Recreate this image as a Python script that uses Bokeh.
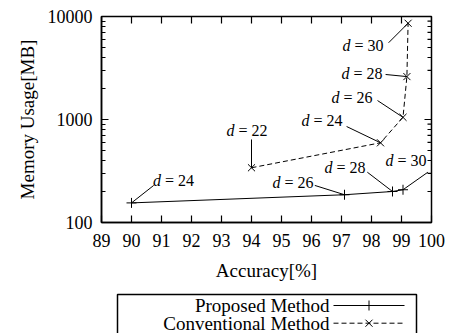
import math
from bokeh.plotting import figure
from bokeh.models import Range1d, FixedTicker, PrintfTickFormatter
from bokeh.layouts import column
from bokeh.embed import file_html
from bokeh.resources import INLINE
from bokeh.core.properties import value

# ---------------- data ----------------
proposed_d = [24, 26, 28, 30]
proposed_acc = [90.0, 97.1, 98.7, 99.05]
proposed_mem = [155, 186, 200, 208]

conv_d = [22, 24, 26, 28, 30]
conv_acc = [94.0, 98.3, 99.05, 99.18, 99.22]
conv_mem = [340, 594, 1050, 2610, 8600]

x_ticks = list(range(89, 101))
y_ticks = [100, 1000, 10000]
y_minor = [m * 10 ** e for e in (2, 3) for m in range(2, 10)]

legend_labels = ["Proposed Method", "Conventional Method"]

# annotation layout (label left edge / middle, and leader start), data coords
prop_label_pos = [(90.72, 256), (94.7, 246), (96.43, 340), (98.47, 400)]
prop_leader_start = [(90.74, 229), (96.11, 229), (97.86, 308), (99.88, 308)]
conv_label_pos = [(93.17, 782), (95.67, 977), (96.67, 1637), (97.0, 2797), (97.03, 5224)]
conv_leader_start = [(94.0, 640), (97.17, 855), (98.2, 1528), (98.47, 2735), (98.57, 5561)]

FONT = "Liberation Serif"
X0, X1 = 89, 100
Y0, Y1 = 100, 10000

p = figure(width=446, height=290, x_range=Range1d(X0, X1), y_range=Range1d(Y0, Y1),
           y_axis_type="log", output_backend="svg", toolbar_location=None,
           min_border_left=101, min_border_right=15, min_border_top=16, min_border_bottom=68)
p.xgrid.visible = False
p.ygrid.visible = False
p.outline_line_color = "black"
p.outline_line_width = 1.5
p.background_fill_color = "white"
p.border_fill_color = "white"

p.xaxis.ticker = FixedTicker(ticks=x_ticks)
p.yaxis.ticker = FixedTicker(ticks=y_ticks, minor_ticks=y_minor)
p.yaxis.formatter = PrintfTickFormatter(format="%d")
p.xaxis.axis_label = "Accuracy[%]"
p.yaxis.axis_label = "Memory Usage[MB]"

for ax in (p.xaxis[0], p.yaxis[0]):
    ax.axis_line_color = "black"
    ax.axis_line_width = 1.5
    ax.major_tick_in = 7
    ax.major_tick_out = 0
    ax.minor_tick_in = 4
    ax.minor_tick_out = 0
    ax.major_tick_line_color = "black"
    ax.minor_tick_line_color = "black"
    ax.major_tick_line_width = 1.2
    ax.minor_tick_line_width = 1.2
    ax.major_label_text_font = FONT
    ax.major_label_text_font_size = "18px"
    ax.major_label_text_color = "black"
    ax.axis_label_text_font = FONT
    ax.axis_label_text_font_size = "19px"
    ax.axis_label_text_font_style = "normal"
    ax.axis_label_text_color = "black"
p.xaxis.major_label_standoff = 11
p.xaxis.axis_label_standoff = 10
p.yaxis.major_label_standoff = 9
p.yaxis.axis_label_standoff = 7

# mirrored ticks on top and right edges (half of each dash is clipped by the frame)
p.scatter(x_ticks, [Y1] * len(x_ticks), marker="dash", angle=math.pi / 2, size=14,
          line_color="black", line_width=1.2)
p.scatter([X1] * len(y_ticks), y_ticks, marker="dash", size=14, line_color="black", line_width=1.2)
p.scatter([X1] * len(y_minor), y_minor, marker="dash", size=8, line_color="black", line_width=1.2)

# series
p.line(conv_acc, conv_mem, line_color="black", line_width=1, line_dash="5 3")
p.scatter(conv_acc, conv_mem, marker="x", size=10, line_color="black", line_width=1)
p.line(proposed_acc, proposed_mem, line_color="black", line_width=1)
p.scatter(proposed_acc, proposed_mem, marker="cross", size=10, line_color="black", line_width=1)

# annotations
def annotate(ds, acc, mem, label_pos, leader):
    p.segment(x0=[s[0] for s in leader], y0=[s[1] for s in leader], x1=acc, y1=mem,
              line_color="black", line_width=1)
    lx = [l[0] for l in label_pos]
    ly = [l[1] for l in label_pos]
    p.text(lx, ly, text=["d"] * len(ds), text_font=value(FONT), text_font_style="italic",
           text_font_size="16px", text_baseline="middle", text_align="left", text_color="black")
    p.text(lx, ly, text=["= %d" % d for d in ds], text_font=value(FONT),
           text_font_style="normal",
           text_font_size="16px", text_baseline="middle", text_align="left", text_color="black",
           x_offset=12)

annotate(proposed_d, proposed_acc, proposed_mem, prop_label_pos, prop_leader_start)
annotate(conv_d, conv_acc, conv_mem, conv_label_pos, conv_leader_start)

# legend panel (same side borders as the main plot so the column keeps both aligned)
lg = figure(width=446, height=43, x_range=Range1d(0, 330), y_range=Range1d(0, 43),
            output_backend="svg", toolbar_location=None,
            min_border_left=101, min_border_right=15, min_border_top=0, min_border_bottom=0)
lg.xaxis.visible = False
lg.yaxis.visible = False
lg.xgrid.visible = False
lg.ygrid.visible = False
lg.outline_line_color = None
lg.border_fill_color = "white"
lg.quad(left=[16], right=[315], bottom=[-5], top=[39], fill_color=None,
        line_color="black", line_width=1.5)
row_y = [28, 10.3]
lg.text([228, 228], row_y, text=legend_labels, text_font=value(FONT), text_font_size="19px",
        text_align="right", text_baseline="middle", text_color="black")
lg.segment(x0=[232], y0=[row_y[0]], x1=[303], y1=[row_y[0]], line_color="black", line_width=1)
lg.scatter([267.5], [row_y[0]], marker="cross", size=10, line_color="black")
lg.segment(x0=[232], y0=[row_y[1]], x1=[303], y1=[row_y[1]], line_color="black", line_width=1,
           line_dash="5 3")
lg.scatter([267.5], [row_y[1]], marker="x", size=10, line_color="black")

layout = column(p, lg, spacing=0)
open("out.html", "w").write(file_html(layout, INLINE))
